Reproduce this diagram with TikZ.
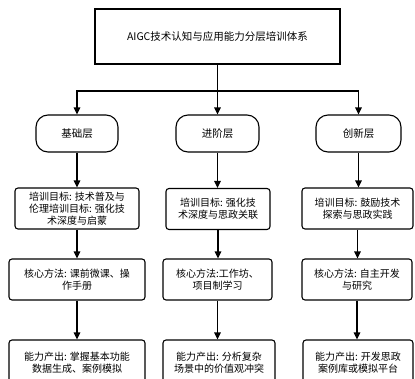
\documentclass[tikz,border=0pt]{standalone}
\usepackage{fontspec}
\setmainfont{Noto Sans CJK SC}
\usetikzlibrary{arrows.meta,positioning}
\tikzset{
  arr/.style={line width=1.1pt, -{Triangle[length=7pt,width=6.5pt]}},
  layerbox/.style={draw, line width=1.1pt, rounded corners=12pt, align=center,
    minimum height=37pt, inner sep=2pt},
  infobox/.style={draw, line width=1.1pt, rounded corners=3pt, align=center,
    minimum height=41pt, inner sep=2pt, font=\fontsize{10}{12}\selectfont},
}

\begin{document}
\begin{tikzpicture}[x=1pt,y=-1pt]
  \useasboundingbox (0,0) rectangle (415,378);
  \clip (0,0) rectangle (415,378);
  % top
  \node[draw, line width=1.1pt, minimum width=245pt, minimum height=55pt,
    font=\fontsize{10.5}{12}\selectfont] (top) at (217.5,36.5)
    {AIGC技术认知与应用能力分层培训体系};
  \coordinate (bus) at (217.5,91);
  % layers
  \node[layerbox, minimum width=82pt, font=\fontsize{10.5}{12}\selectfont] (base) at (77,133.5) {基础层};
  \node[layerbox, minimum width=83pt, font=\fontsize{10.5}{12}\selectfont] (adv) at (217.5,133.5) {进阶层};
  \node[layerbox, minimum width=85pt, font=\fontsize{10.5}{12}\selectfont] (inno) at (358.5,133.5) {创新层};
  % goals
  \node[infobox, minimum width=124pt] (baseGoal) at (77,208.5)
    {培训目标: 技术普及与\\伦理培训目标: 强化技\\术深度与启蒙};
  \node[infobox, minimum width=104pt] (advGoal) at (218,209)
    {培训目标: 强化技\\术深度与思政关联};
  \node[infobox, minimum width=111pt] (innoGoal) at (357.5,208.5)
    {培训目标: 鼓励技术\\探索与思政实践};
  % methods
  \node[infobox, minimum width=136pt] (baseMeth) at (77,279.5)
    {核心方法: 课前微课、操\\作手册};
  \node[infobox, minimum width=109pt] (advMeth) at (217.5,279.5)
    {核心方法:工作坊、\\项目制学习};
  \node[infobox, minimum width=110pt] (innoMeth) at (357,279.5)
    {核心方法: 自主开发\\与研究};
  % outputs
  \node[infobox, minimum width=136pt, minimum height=45pt] (baseOut) at (77,362.5)
    {能力产出: 掌握基本功能\\数据生成、案例模拟};
  \node[infobox, minimum width=112pt, minimum height=45pt] (advOut) at (219,362.5)
    {能力产出: 分析复杂\\场景中的价值观冲突};
  \node[infobox, minimum width=110pt, minimum height=45pt] (innoOut) at (358,362.5)
    {能力产出: 开发思政\\案例库或模拟平台};
  % connectors
  \draw[line width=1.1pt] (top.south) -- (bus);
  \draw[arr] (bus) -| (base.north);
  \draw[arr] (bus) -| (inno.north);
  \draw[arr] (bus) -- (adv.north);
  \foreach \a/\b in {base/baseGoal,adv/advGoal,inno/innoGoal,
                     baseGoal/baseMeth,advGoal/advMeth,innoGoal/innoMeth,
                     baseMeth/baseOut,advMeth/advOut,innoMeth/innoOut}
    \draw[arr] (\a.south) -- (\a.south |- \b.north);
\end{tikzpicture}
\end{document}
